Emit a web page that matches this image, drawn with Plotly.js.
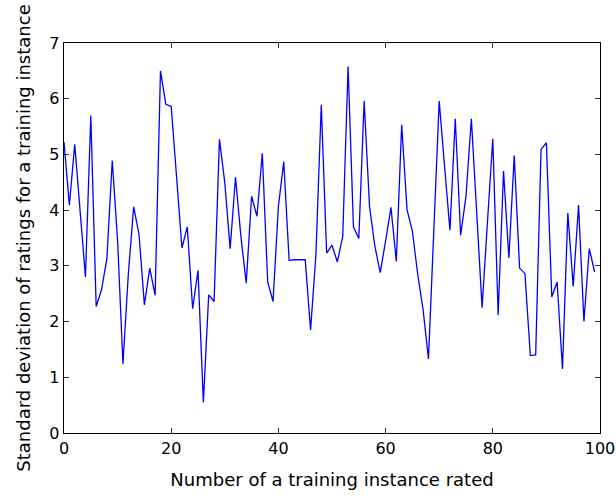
<!DOCTYPE html>
<html>
<head>
<meta charset="utf-8">
<script src="https://cdn.plot.ly/plotly-3.0.1.min.js"></script>
<style>
html, body { margin: 0; padding: 0; background: #fff; }
#chart { width: 616px; height: 496px; }
</style>
</head>
<body>
<div id="chart"></div>
<script>
// Standard deviation of ratings for each training instance (index 0..99)
const instanceIndex = [];
for (let i = 0; i < 100; i++) instanceIndex.push(i);

const stdDevValues = [
  5.22, 4.09, 5.18, 3.92, 2.80, 5.70, 2.27, 2.57, 3.13, 4.89,
  3.45, 1.24, 2.85, 4.06, 3.56, 2.30, 2.96, 2.47, 6.50, 5.90,
  5.86, 4.60, 3.32, 3.70, 2.23, 2.92, 0.55, 2.48, 2.36, 5.27,
  4.49, 3.31, 4.59, 3.53, 2.69, 4.25, 3.89, 5.02, 2.71, 2.36,
  4.07, 4.87, 3.10, 3.11, 3.11, 3.11, 1.85, 3.20, 5.89, 3.23,
  3.37, 3.07, 3.53, 6.58, 3.70, 3.49, 5.96, 4.07, 3.35, 2.88,
  3.45, 4.05, 3.08, 5.53, 4.01, 3.62, 2.84, 2.21, 1.33, 3.60,
  5.96, 4.79, 3.64, 5.64, 3.55, 4.25, 5.64, 3.95, 2.25, 3.78,
  5.28, 2.12, 4.70, 3.14, 4.98, 2.96, 2.86, 1.39, 1.40, 5.09,
  5.21, 2.44, 2.71, 1.15, 3.95, 2.63, 4.09, 2.00, 3.31, 2.89
];

const xTicks = [0, 20, 40, 60, 80, 100];
const yTicks = [0, 1, 2, 3, 4, 5, 6, 7];

const xTitle = "Number of a training instance rated";
const yTitle = "Standard deviation of ratings for a training instance";

const font = "DejaVu Sans, sans-serif";

const trace = {
  x: instanceIndex,
  y: stdDevValues,
  type: "scatter",
  mode: "lines",
  line: { color: "#0000ff", width: 1.3 },
  hoverinfo: "skip"
};

const axisCommon = {
  showgrid: false,
  zeroline: false,
  showline: true,
  linecolor: "#000",
  linewidth: 1.3,
  mirror: "ticks",
  ticks: "inside",
  ticklen: 5,
  tickwidth: 0.8,
  tickcolor: "#000",
  tickfont: { family: font, size: 16, color: "#000" }
};

const layout = {
  width: 616,
  height: 496,
  paper_bgcolor: "#fff",
  plot_bgcolor: "#fff",
  margin: { l: 64, r: 16, t: 43, b: 63 },
  showlegend: false,
  font: { family: font, size: 16, color: "#000" },
  xaxis: Object.assign({}, axisCommon, {
    range: [0, 100],
    tickvals: xTicks,
    ticktext: xTicks.map(String),
    title: { text: xTitle, font: { family: font, size: 18, color: "#000" }, standoff: 17 }
  }),
  yaxis: Object.assign({}, axisCommon, {
    range: [0, 7],
    tickvals: yTicks,
    ticktext: yTicks.map(String),
    title: { text: yTitle, font: { family: font, size: 18, color: "#000" }, standoff: 14 }
  })
};

Plotly.newPlot("chart", [trace], layout, { staticPlot: true, displayModeBar: false });
</script>
</body>
</html>
